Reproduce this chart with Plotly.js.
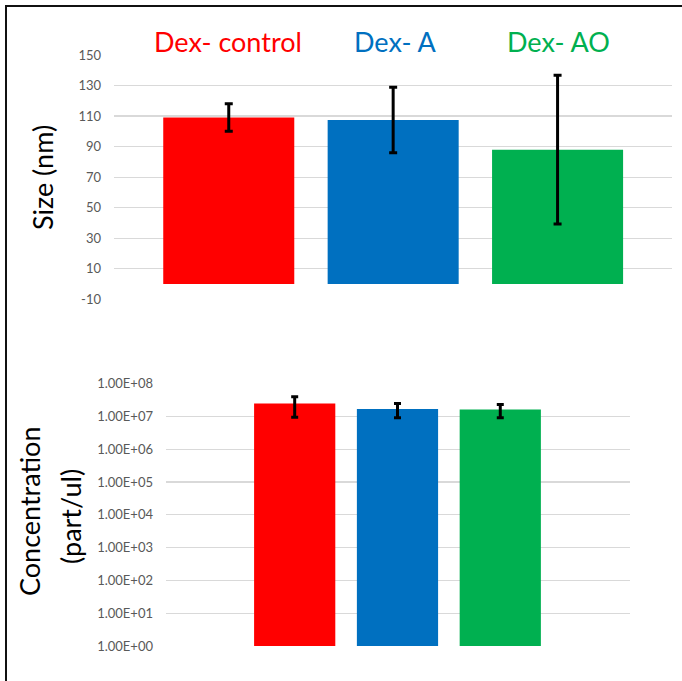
<!DOCTYPE html>
<html>
<head>
<meta charset="utf-8">
<script src="https://cdn.plot.ly/plotly-3.0.1.min.js"></script>
<style>
  html, body { margin: 0; padding: 0; background: #fff; overflow: hidden; }
  #wrap { position: relative; width: 682px; height: 681px; overflow: hidden; }
  #chart { position: absolute; left: 0; top: 0; width: 682px; height: 681px; }
  .edge { position: absolute; background: #111; pointer-events: none; }
  #edgeTop { left: 5px; top: 5px; width: 700px; height: 2px; }
  #edgeLeft { left: 5px; top: 5px; width: 2px; height: 700px; }
</style>
</head>
<body>
<div id="wrap">
  <div id="chart"></div>
  <div class="edge" id="edgeTop"></div>
  <div class="edge" id="edgeLeft"></div>
</div>
<script>
// ---- data ----
const groups = ["Dex- control", "Dex- A", "Dex- AO"];
const groupColors = ["#FF0000", "#0070C0", "#00B050"];

const sizeMean = [109, 107.4, 88];
const sizeErr = [9, 21.5, 48.7];

const concMean = [2.44e7, 1.68e7, 1.60e7];
const concErr = [1.5e7, 7.8e6, 7.0e6];

const sizeTickVals = [-10, 10, 30, 50, 70, 90, 110, 130, 150];
const sizeTickText = ["-10", "10", "30", "50", "70", "90", "110", "130", "150"];
const concTickVals = [1, 10, 100, 1e3, 1e4, 1e5, 1e6, 1e7, 1e8];
const concTickText = ["1.00E+00", "1.00E+01", "1.00E+02", "1.00E+03", "1.00E+04",
                      "1.00E+05", "1.00E+06", "1.00E+07", "1.00E+08"];

const sizeTitle = "Size (nm)";
const concTitleLines = ["Concentration", "(part/ul)"];

// ---- figure ----
const W = 682, H = 681;
const FONT = "Lato, 'Open Sans', sans-serif";
const px = v => v / W;
const py = v => (H - v) / H;

const traces = [
  {
    type: "bar", x: groups, y: sizeMean, xaxis: "x", yaxis: "y",
    width: 0.797,
    marker: { color: groupColors, line: { width: 0 } },
    error_y: { type: "data", array: sizeErr, visible: true, color: "#000", thickness: 3, width: 4 },
    hoverinfo: "skip", showlegend: false
  },
  {
    type: "bar", x: groups, y: concMean, xaxis: "x2", yaxis: "y2",
    width: 0.79,
    marker: { color: groupColors, line: { width: 0 } },
    error_y: { type: "data", array: concErr, visible: true, color: "#000", thickness: 3, width: 3.5 },
    hoverinfo: "skip", showlegend: false
  }
];

const tickFont = { family: FONT, size: 13, color: "#595959" };

const annotations = [];
const labelX = [228, 395, 558];
groups.forEach((g, i) => {
  annotations.push({
    text: g, xref: "paper", yref: "paper", x: px(labelX[i]), y: py(41),
    xanchor: "center", yanchor: "middle", showarrow: false,
    font: { family: FONT, size: 27, color: groupColors[i] }
  });
});
annotations.push({
  text: sizeTitle, xref: "paper", yref: "paper", x: px(42), y: py(178),
  xanchor: "center", yanchor: "middle", showarrow: false, textangle: -90,
  font: { family: FONT, size: 27, color: "#000" }
});
annotations.push({
  text: concTitleLines[0], xref: "paper", yref: "paper", x: px(29), y: py(512),
  xanchor: "center", yanchor: "middle", showarrow: false, textangle: -90,
  font: { family: FONT, size: 27, color: "#000" }
});
annotations.push({
  text: concTitleLines[1], xref: "paper", yref: "paper", x: px(70), y: py(517),
  xanchor: "center", yanchor: "middle", showarrow: false, textangle: -90,
  font: { family: FONT, size: 27, color: "#000" }
});

const layout = {
  width: W, height: H,
  margin: { l: 0, r: 0, t: 0, b: 0 },
  paper_bgcolor: "rgba(0,0,0,0)",
  plot_bgcolor: "rgba(0,0,0,0)",
  bargap: 0.2,
  xaxis: {
    domain: [px(114), px(672)], anchor: "y",
    type: "category", range: [-0.698, 2.696],
    showticklabels: false, showgrid: false, zeroline: false, showline: false, ticks: ""
  },
  yaxis: {
    domain: [py(299.3), py(55)], anchor: "x",
    range: [-10, 150], tickmode: "array", tickvals: sizeTickVals, ticktext: sizeTickText,
    showgrid: true, gridcolor: "#D9D9D9", gridwidth: 1.2, zeroline: false, showline: false,
    ticks: "", tickfont: tickFont, ticklabelstandoff: 12
  },
  xaxis2: {
    domain: [px(166), px(630)], anchor: "y2",
    type: "category", range: [-1.252, 3.262],
    showticklabels: false, showgrid: false, zeroline: false, showline: false, ticks: ""
  },
  yaxis2: {
    domain: [py(646), py(383.5)], anchor: "x2",
    type: "log", range: [0, 8], tickmode: "array", tickvals: concTickVals, ticktext: concTickText,
    showgrid: true, gridcolor: "#D9D9D9", gridwidth: 1.2, zeroline: false, showline: false,
    ticks: "", tickfont: tickFont, ticklabelstandoff: 12
  },
  annotations: annotations
};

Plotly.newPlot("chart", traces, layout, { staticPlot: true, displayModeBar: false });
</script>
</body>
</html>
